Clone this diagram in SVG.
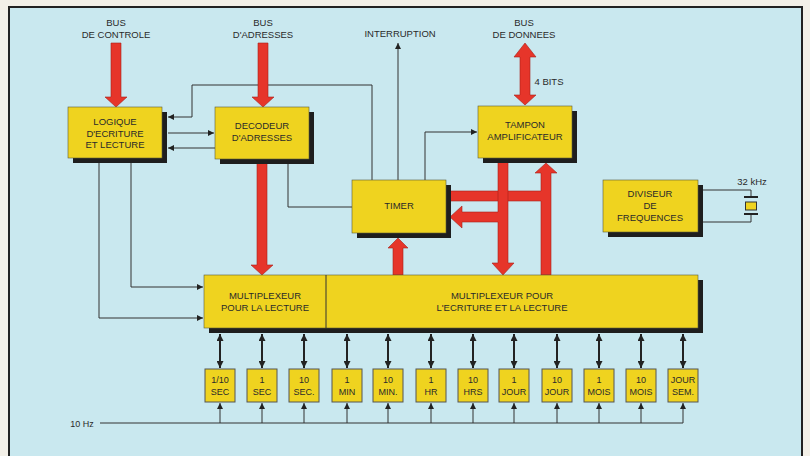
<svg xmlns="http://www.w3.org/2000/svg" width="810" height="456" viewBox="0 0 810 456">
<defs>
<style>
.t{font-family:"Liberation Sans","Noto Sans",Arial,sans-serif;font-size:9.5px;fill:#2a2a2a;text-anchor:middle}
.s{font-family:"Liberation Sans","Noto Sans",Arial,sans-serif;font-size:9px;fill:#2a2a2a;text-anchor:middle}
.box{fill:#efd31f;stroke:#5a5a3a;stroke-width:0.6}
.sh{fill:#1e1e1e}
.ln{fill:none;stroke:#333;stroke-width:1}
.dbl{fill:none;stroke:#222;stroke-width:2}
.red{fill:#e6352a;stroke:#a8201a;stroke-width:0.6}
.sbox{fill:#efd31f;stroke:#555;stroke-width:1}
</style>
<marker id="ah" viewBox="0 0 10 10" refX="10" refY="5" markerWidth="7" markerHeight="6" markerUnits="userSpaceOnUse" orient="auto-start-reverse">
<path d="M0,0 L10,5 L0,10 Z" fill="#222"/>
</marker>
<marker id="ah2" viewBox="0 0 10 10" refX="10" refY="5" markerWidth="8" markerHeight="7" markerUnits="userSpaceOnUse" orient="auto-start-reverse">
<path d="M0,0 L10,5 L0,10 Z" fill="#222"/>
</marker>
</defs>
<rect x="0" y="0" width="810" height="456" fill="#f3f0e8"/>
<rect x="9" y="7" width="793" height="462" fill="#c9e8ef" stroke="#222" stroke-width="2"/>

<g id="labels">
<text class="t" x="116" y="26">BUS</text>
<text class="t" x="116" y="38">DE CONTROLE</text>
<text class="t" x="263" y="26">BUS</text>
<text class="t" x="263" y="38">D'ADRESSES</text>
<text class="t" x="400" y="37">INTERRUPTION</text>
<text class="t" x="524" y="26">BUS</text>
<text class="t" x="524" y="38">DE DONNEES</text>
<text class="t" x="549" y="85">4 BITS</text>
<text class="t" x="752" y="185">32 kHz</text>
<text class="s" x="82" y="427">10 Hz</text>
</g>

<g id="connectors">
<path class="ln" d="M372,180 V85 H192 V117 H168" marker-end="url(#ah)"/>
<path class="ln" d="M168,133 H214" marker-end="url(#ah)"/>
<path class="ln" d="M215,148 H168" marker-end="url(#ah)"/>
<path class="ln" d="M288,163 V207 H352"/>
<path class="ln" d="M398,180 V43" marker-end="url(#ah)"/>
<path class="ln" d="M425,180 V132 H477" marker-end="url(#ah)"/>
<path class="ln" d="M131,163 V287 H203" marker-end="url(#ah)"/>
<path class="ln" d="M99,163 V318 H203" marker-end="url(#ah)"/>
<path class="ln" d="M703,190 H751 V197"/>
<path class="ln" d="M751,213 V222 H703"/>
<path class="ln" d="M100,423 H683"/>
<g id="bus-arrows">
<path class="dbl" d="M220,334 V368" marker-start="url(#ah2)" marker-end="url(#ah2)"/>
<path class="dbl" d="M262,334 V368" marker-start="url(#ah2)" marker-end="url(#ah2)"/>
<path class="dbl" d="M304,334 V368" marker-start="url(#ah2)" marker-end="url(#ah2)"/>
<path class="dbl" d="M347,334 V368" marker-start="url(#ah2)" marker-end="url(#ah2)"/>
<path class="dbl" d="M388,334 V368" marker-start="url(#ah2)" marker-end="url(#ah2)"/>
<path class="dbl" d="M431,334 V368" marker-start="url(#ah2)" marker-end="url(#ah2)"/>
<path class="dbl" d="M473,334 V368" marker-start="url(#ah2)" marker-end="url(#ah2)"/>
<path class="dbl" d="M514,334 V368" marker-start="url(#ah2)" marker-end="url(#ah2)"/>
<path class="dbl" d="M557,334 V368" marker-start="url(#ah2)" marker-end="url(#ah2)"/>
<path class="dbl" d="M599,334 V368" marker-start="url(#ah2)" marker-end="url(#ah2)"/>
<path class="dbl" d="M641,334 V368" marker-start="url(#ah2)" marker-end="url(#ah2)"/>
<path class="dbl" d="M683,334 V368" marker-start="url(#ah2)" marker-end="url(#ah2)"/>
</g>
<g id="clock-arrows">
<path class="ln" d="M220,423 V403" marker-end="url(#ah)"/>
<path class="ln" d="M262,423 V403" marker-end="url(#ah)"/>
<path class="ln" d="M304,423 V403" marker-end="url(#ah)"/>
<path class="ln" d="M347,423 V403" marker-end="url(#ah)"/>
<path class="ln" d="M388,423 V403" marker-end="url(#ah)"/>
<path class="ln" d="M431,423 V403" marker-end="url(#ah)"/>
<path class="ln" d="M473,423 V403" marker-end="url(#ah)"/>
<path class="ln" d="M514,423 V403" marker-end="url(#ah)"/>
<path class="ln" d="M557,423 V403" marker-end="url(#ah)"/>
<path class="ln" d="M599,423 V403" marker-end="url(#ah)"/>
<path class="ln" d="M641,423 V403" marker-end="url(#ah)"/>
<path class="ln" d="M683,423 V403" marker-end="url(#ah)"/>
</g>
<g id="red-buses">
<path class="red" d="M111,43 H121 V97 H127 L116,107 L105,97 H111 Z"/>
<path class="red" d="M258,43 H268 V97 H274 L263,107 L252,97 H258 Z"/>
<path class="red" d="M257,160 H267 V265 H273 L262,275 L251,265 H257 Z"/>
<path class="red" d="M393,275 V248 H388 L398,238 L408,248 H403 V275 Z"/>
<path class="red" d="M520,57 H514 L525,43 L536,57 H530 V95 H536 L525,105 L514,95 H520 Z"/>
<path class="red" d="M541,275 V201 H450 V191 H541 V173 H535 L546,163 L557,173 H551 V275 Z"/>
<path class="red" d="M498,160 H508 V263 H514 L503,275 L492,263 H498 V222 H462 V228 L450,217 L462,206 V212 H498 Z"/>
</g>
</g>

<g id="logique">
<rect class="sh" x="73" y="112" width="94" height="51"/>
<rect class="box" x="68" y="107" width="94" height="51"/>
<text class="t" x="115" y="125">LOGIQUE</text>
<text class="t" x="115" y="137">D'ECRITURE</text>
<text class="t" x="115" y="148">ET LECTURE</text>
</g>
<g id="decodeur">
<rect class="sh" x="220" y="112" width="94" height="52"/>
<rect class="box" x="215" y="107" width="94" height="52"/>
<text class="t" x="262" y="129">DECODEUR</text>
<text class="t" x="262" y="141">D'ADRESSES</text>
</g>
<g id="timer">
<rect class="sh" x="357" y="185" width="94" height="53"/>
<rect class="box" x="352" y="180" width="94" height="53"/>
<text class="t" x="399" y="209">TIMER</text>
</g>
<g id="tampon">
<rect class="sh" x="483" y="111" width="94" height="52"/>
<rect class="box" x="478" y="106" width="94" height="52"/>
<text class="t" x="525" y="128">TAMPON</text>
<text class="t" x="525" y="140">AMPLIFICATEUR</text>
</g>
<g id="diviseur">
<rect class="sh" x="608" y="185" width="95" height="52"/>
<rect class="box" x="603" y="180" width="95" height="52"/>
<text class="t" x="650" y="197">DIVISEUR</text>
<text class="t" x="650" y="209">DE</text>
<text class="t" x="650" y="221">FREQUENCES</text>
</g>
<g id="quartz">
<path d="M744,197 H758 M744,214 H758" stroke="#222" stroke-width="2"/>
<rect x="745.5" y="202" width="11" height="8" fill="#efd31f" stroke="#333" stroke-width="1"/>
</g>
<g id="multiplexeur">
<rect class="sh" x="209" y="280" width="494" height="53"/>
<rect class="box" x="204" y="275" width="494" height="53"/>
<line x1="326" y1="275" x2="326" y2="328" stroke="#333" stroke-width="1"/>
<text class="t" x="265" y="299">MULTIPLEXEUR</text>
<text class="t" x="265" y="311">POUR LA LECTURE</text>
<text class="t" x="502" y="299">MULTIPLEXEUR POUR</text>
<text class="t" x="502" y="311">L'ECRITURE ET LA LECTURE</text>
</g>

<g id="c1"><rect class="sbox" x="205" y="369" width="30" height="33"/><text class="s" x="220" y="383">1/10</text><text class="s" x="220" y="395">SEC</text></g>
<g id="c2"><rect class="sbox" x="247" y="369" width="30" height="33"/><text class="s" x="262" y="383">1</text><text class="s" x="262" y="395">SEC</text></g>
<g id="c3"><rect class="sbox" x="289" y="369" width="30" height="33"/><text class="s" x="304" y="383">10</text><text class="s" x="304" y="395">SEC.</text></g>
<g id="c4"><rect class="sbox" x="332" y="369" width="30" height="33"/><text class="s" x="347" y="383">1</text><text class="s" x="347" y="395">MIN</text></g>
<g id="c5"><rect class="sbox" x="373" y="369" width="30" height="33"/><text class="s" x="388" y="383">10</text><text class="s" x="388" y="395">MIN.</text></g>
<g id="c6"><rect class="sbox" x="416" y="369" width="30" height="33"/><text class="s" x="431" y="383">1</text><text class="s" x="431" y="395">HR</text></g>
<g id="c7"><rect class="sbox" x="458" y="369" width="30" height="33"/><text class="s" x="473" y="383">10</text><text class="s" x="473" y="395">HRS</text></g>
<g id="c8"><rect class="sbox" x="499" y="369" width="30" height="33"/><text class="s" x="514" y="383">1</text><text class="s" x="514" y="395">JOUR</text></g>
<g id="c9"><rect class="sbox" x="542" y="369" width="30" height="33"/><text class="s" x="557" y="383">10</text><text class="s" x="557" y="395">JOUR</text></g>
<g id="c10"><rect class="sbox" x="584" y="369" width="30" height="33"/><text class="s" x="599" y="383">1</text><text class="s" x="599" y="395">MOIS</text></g>
<g id="c11"><rect class="sbox" x="626" y="369" width="30" height="33"/><text class="s" x="641" y="383">10</text><text class="s" x="641" y="395">MOIS</text></g>
<g id="c12"><rect class="sbox" x="668" y="369" width="30" height="33"/><text class="s" x="683" y="383">JOUR</text><text class="s" x="683" y="395">SEM.</text></g>
</svg>
